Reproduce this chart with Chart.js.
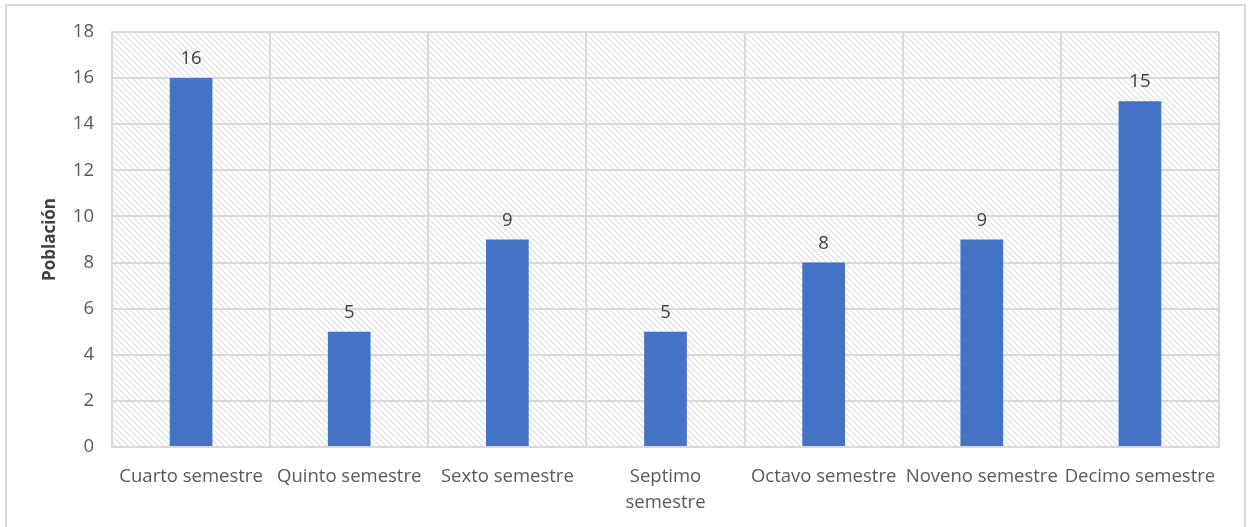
<!DOCTYPE html>
<html>
<head>
<meta charset="utf-8">
<script src="https://cdn.jsdelivr.net/npm/chart.js@4/dist/chart.umd.min.js"></script>
<style>
    html, body { margin: 0; padding: 0; background: #fff; }
    #wrap { width: 1251px; height: 527px; }
</style>
</head>
<body>
<div id="wrap"><canvas id="myChart"></canvas></div>
<script>
const semesters = [
    "Cuarto semestre",
    "Quinto semestre",
    "Sexto semestre",
    ["Septimo", "semestre"],
    "Octavo semestre",
    "Noveno semestre",
    "Decimo semestre"
];
const population = [16, 5, 9, 5, 8, 9, 15];
const yTicks = [0, 2, 4, 6, 8, 10, 12, 14, 16, 18];

const FONT = "'Open Sans', 'Noto Sans', sans-serif";
const GRID = "#d9d9d9";

// light diagonal hatch used behind the bars
function makeHatch() {
    const tile = document.createElement("canvas");
    tile.width = 6;
    tile.height = 6;
    const t = tile.getContext("2d");
    t.fillStyle = "#ffffff";
    t.fillRect(0, 0, 6, 6);
    t.strokeStyle = "#dedede";
    t.lineWidth = 1.1;
    t.beginPath();
    t.moveTo(-1, -1); t.lineTo(7, 7);
    t.moveTo(-4, 2); t.lineTo(2, 8);
    t.moveTo(2, -4); t.lineTo(8, 2);
    t.stroke();
    return t.createPattern(tile, "repeat");
}

const frame = {
    id: "frame",
    beforeDraw(chart) {
        const ctx = chart.ctx;
        const a = chart.chartArea;
        ctx.save();
        ctx.fillStyle = "#ffffff";
        ctx.fillRect(0, 0, chart.width, chart.height);
        ctx.strokeStyle = GRID;
        ctx.lineWidth = 2;
        ctx.strokeRect(6, 5, 1239, 530);
        ctx.fillStyle = makeHatch();
        ctx.fillRect(a.left, a.top, a.right - a.left, a.bottom - a.top);
        ctx.restore();
    }
};

const valueLabels = {
    id: "valueLabels",
    afterDatasetsDraw(chart) {
        const ctx = chart.ctx;
        const meta = chart.getDatasetMeta(0);
        ctx.save();
        ctx.font = "18.5px " + FONT;
        ctx.fillStyle = "#404040";
        ctx.textAlign = "center";
        ctx.textBaseline = "middle";
        meta.data.forEach((bar, i) => {
            ctx.fillText(String(population[i]), bar.x, bar.y - 19);
        });
        ctx.restore();
    }
};

const ctx = document.getElementById("myChart").getContext("2d");

new Chart(ctx, {
    type: "bar",
    data: {
        labels: semesters,
        datasets: [{
            data: population,
            backgroundColor: "#4472c4",
            borderWidth: 0,
            categoryPercentage: 1,
            barPercentage: 0.27
        }]
    },
    options: {
        responsive: true,
        maintainAspectRatio: false,
        animation: false,
        layout: { padding: { left: 0, top: 32, right: 32, bottom: 0 } },
        plugins: {
            legend: { display: false },
            tooltip: { enabled: false }
        },
        scales: {
            x: {
                grid: { color: GRID, lineWidth: 2, drawTicks: false, offset: true },
                border: { color: GRID, width: 2 },
                ticks: {
                    color: "#595959",
                    font: { family: FONT, size: 18.5, lineHeight: 1.4 },
                    padding: 17,
                    maxRotation: 0,
                    autoSkip: false
                },
                afterFit(scale) { scale.height = 80; }
            },
            y: {
                min: 0,
                max: 18,
                afterBuildTicks(scale) {
                    scale.ticks = yTicks.map(v => ({ value: v }));
                },
                grid: { color: GRID, lineWidth: 2, drawTicks: false },
                border: { color: GRID, width: 2 },
                ticks: {
                    color: "#595959",
                    font: { family: FONT, size: 18.5 },
                    padding: 18
                },
                title: {
                    display: true,
                    text: "Población",
                    color: "#404040",
                    font: { family: FONT, size: 17, weight: "bold" },
                    padding: { top: 40 }
                },
                afterFit(scale) { scale.width = 112; }
            }
        }
    },
    plugins: [frame, valueLabels]
});
</script>
</body>
</html>
